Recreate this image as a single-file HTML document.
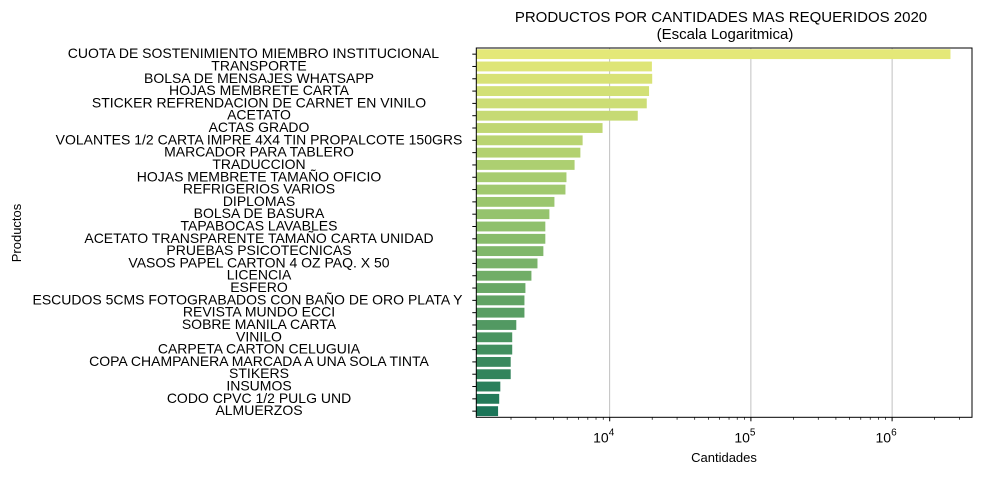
<!DOCTYPE html>
<html><head><meta charset="utf-8"><style>
body{margin:0;background:#fff;}
svg{font-family:"Liberation Sans","DejaVu Sans",sans-serif;}
</style></head><body>
<svg id="chart" width="982" height="475"></svg>
<script>
const categories=["CUOTA DE SOSTENIMIENTO MIEMBRO INSTITUCIONAL   ","TRANSPORTE","BOLSA DE MENSAJES WHATSAPP","HOJAS MEMBRETE CARTA","STICKER REFRENDACION DE CARNET EN VINILO","ACETATO","ACTAS GRADO","VOLANTES 1/2 CARTA IMPRE 4X4 TIN PROPALCOTE 150GRS","MARCADOR PARA TABLERO","TRADUCCION","HOJAS MEMBRETE TAMAÑO OFICIO","REFRIGERIOS VARIOS","DIPLOMAS","BOLSA DE BASURA","TAPABOCAS LAVABLES","ACETATO TRANSPARENTE TAMAÑO CARTA UNIDAD","PRUEBAS PSICOTECNICAS","VASOS PAPEL CARTON 4 OZ PAQ. X 50","LICENCIA","ESFERO","ESCUDOS 5CMS FOTOGRABADOS CON BAÑO DE ORO PLATA Y      ","REVISTA MUNDO ECCI","SOBRE MANILA CARTA","VINILO","CARPETA CARTON CELUGUIA","COPA CHAMPANERA MARCADA A UNA SOLA TINTA","STIKERS","INSUMOS","CODO CPVC 1/2 PULG UND","ALMUERZOS"];
const values=[2590000,19900,20000,19000,18300,15800,8900,6430,6200,5640,4940,4860,4060,3740,3500,3500,3390,3080,2790,2530,2490,2490,2180,2040,2040,1990,1990,1680,1650,1620];
const xTickExps=[4,5,6];
const NS="http://www.w3.org/2000/svg";
const svg=document.getElementById('chart');
const L=476.3,R=972,T=48,B=417.3,D=141.2;
const xs=v=>609.7+(Math.log10(v)-4)*D;
const band=(B-T)/categories.length;
function mk(t,a,p){const e=document.createElementNS(NS,t);for(const k in a)e.setAttribute(k,a[k]);(p||svg).appendChild(e);return e;}
function lerp(a,b,t){return a.map((x,i)=>Math.round(x+(b[i]-x)*t));}
function col(t){const c0=[228,232,120],c1=[140,191,108],c2=[27,117,88];return t<0.5?lerp(c0,c1,t*2):lerp(c1,c2,(t-0.5)*2);}
xTickExps.forEach(e=>{const g=mk('line',{x1:xs(10**e),x2:xs(10**e),y1:T,y2:B,stroke:'#b0b0b0','stroke-width':0.8});
});
values.forEach((v,i)=>{const c=col(i/(values.length-1));
const r=mk('rect',{x:L,y:T+i*band+band*0.1,width:xs(v)-L,height:band*0.8,fill:`rgb(${c})`});

const yc=T+(i+0.5)*band;
mk('line',{x1:L-4,x2:L,y1:yc,y2:yc,stroke:'#000','stroke-width':1});
const t=mk('text',{x:259,y:yc+4,'text-anchor':'middle','font-size':14,fill:'#000'});
t.setAttribute('style','white-space:pre');t.textContent=categories[i];
});
xTickExps.forEach(e=>{const x=xs(10**e);mk('line',{x1:x,x2:x,y1:B,y2:B+4,stroke:'#000'});
const t=mk('text',{x:x-6,y:B+25,'text-anchor':'middle','font-size':14});t.innerHTML='10<tspan dy="-7" font-size="10">'+e+'</tspan>';
});
for(let e=3;e<=6;e++)for(let m=2;m<=9;m++){const x=xs(m*10**e);if(x>L&&x<R)mk('line',{x1:x,x2:x,y1:B,y2:B+2.5,stroke:'#000','stroke-width':0.7});}
const fr=mk('rect',{x:L,y:T,width:R-L,height:B-T,fill:'none',stroke:'#000','stroke-width':1});

let t=mk('text',{x:721,y:22,'text-anchor':'middle','font-size':15});t.textContent='PRODUCTOS POR CANTIDADES MAS REQUERIDOS 2020';

t=mk('text',{x:725,y:39,'text-anchor':'middle','font-size':15});t.textContent='(Escala Logaritmica)';

t=mk('text',{x:724,y:462,'text-anchor':'middle','font-size':13});t.textContent='Cantidades';

t=mk('text',{x:21,y:233,'text-anchor':'middle','font-size':13,transform:'rotate(-90 21 233)'});t.textContent='Productos';

</script>
</body></html>
